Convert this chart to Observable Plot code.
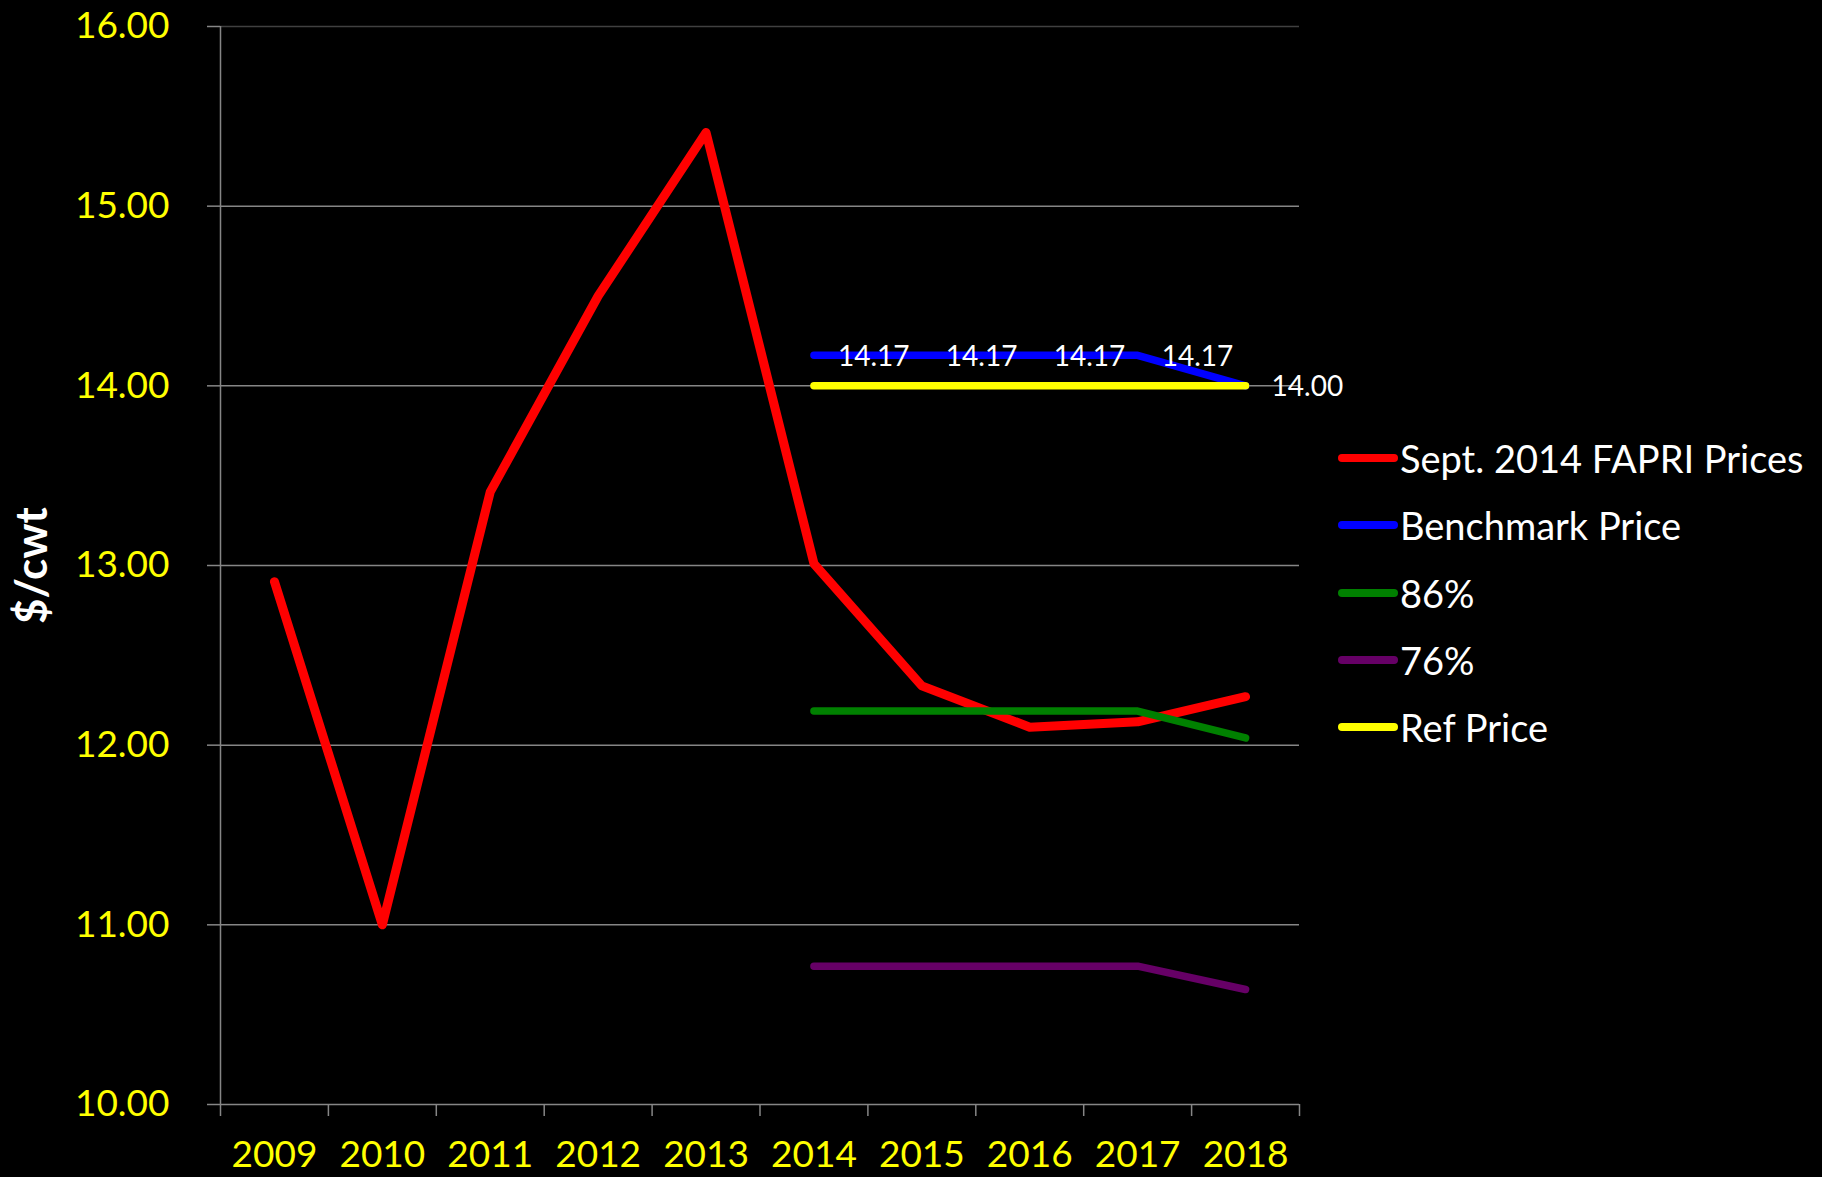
<!DOCTYPE html>
<html>
<head>
<meta charset="utf-8">
<script src="https://cdn.jsdelivr.net/npm/d3@7"></script>
<script src="https://cdn.jsdelivr.net/npm/@observablehq/plot@0.6"></script>
<style>
  html, body { margin: 0; padding: 0; background: #000; }
  #wrap { position: relative; width: 1822px; height: 1177px; background: #000; overflow: hidden; }
  #legend { position: absolute; left: 1338px; top: 0; font-family: Lato, "Open Sans", sans-serif; color: #fff; font-size: 38px; }
  .row { position: absolute; left: 0; display: flex; align-items: center; white-space: nowrap; transform: translateY(-50%); }
  .sw { width: 60px; height: 8px; border-radius: 4px; margin-right: 2px; }
</style>
</head>
<body>
<div id="wrap"><div id="legend"></div></div>
<script>
const years = [2009, 2010, 2011, 2012, 2013, 2014, 2015, 2016, 2017, 2018];
const fapriPrices = [12.91, 11.00, 13.41, 14.50, 15.41, 13.01, 12.33, 12.10, 12.13, 12.27];
const programYears = [2014, 2015, 2016, 2017, 2018];
const benchmarkPrice = [14.17, 14.17, 14.17, 14.17, 14.00];
const pct86 = [12.19, 12.19, 12.19, 12.19, 12.04];
const pct76 = [10.77, 10.77, 10.77, 10.77, 10.64];
const refPrice = [14.00, 14.00, 14.00, 14.00, 14.00];
const yTicks = [10, 11, 12, 13, 14, 15, 16];
const seriesNames = ["Sept. 2014 FAPRI Prices", "Benchmark Price", "86%", "76%", "Ref Price"];
const seriesColors = ["#ff0000", "#0000ff", "#008000", "#660066", "#ffff00"];

const fapri = years.map((year, i) => ({year, value: fapriPrices[i]}));
const bench = programYears.map((year, i) => ({year, value: benchmarkPrice[i]}));
const p86 = programYears.map((year, i) => ({year, value: pct86[i]}));
const p76 = programYears.map((year, i) => ({year, value: pct76[i]}));
const ref = programYears.map((year, i) => ({year, value: refPrice[i]}));

const font = "Lato, 'Open Sans', sans-serif";
const grid = "#868686";
const bounds = d3.range(years[0] - 0.5, years[years.length - 1] + 1, 1);

const lineOpts = (color, w) => ({x: "year", y: "value", stroke: color, strokeWidth: w, strokeLinecap: "round", strokeLinejoin: "round"});

const chart = Plot.plot({
  width: 1822,
  height: 1177,
  marginLeft: 220,
  marginRight: 523,
  marginTop: 26,
  marginBottom: 73,
  style: {background: "#000", fontFamily: font, overflow: "visible"},
  x: {type: "linear", domain: [years[0] - 0.5, years[years.length - 1] + 0.5], axis: null},
  y: {domain: [yTicks[0], yTicks[yTicks.length - 1]], axis: null},
  marks: [
    Plot.ruleY([yTicks[yTicks.length - 1]], {stroke: "#404040", strokeWidth: 1.5}),
    Plot.gridY(yTicks.slice(1, -1), {stroke: grid, strokeOpacity: 1, strokeWidth: 1.5}),
    Plot.axisY(yTicks, {tickSize: 13, tickFormat: () => "", stroke: grid, strokeWidth: 1.5, label: null}),
    Plot.axisY(yTicks, {tickSize: 0, tickPadding: 51, tickFormat: d => d.toFixed(2), fill: "#ffff00", fontSize: 37, fontFamily: font, label: null}),
    Plot.axisX(bounds, {tickSize: 12, tickFormat: () => "", stroke: grid, strokeWidth: 1.5, label: null}),
    Plot.axisX(years, {tickSize: 0, tickPadding: 36, tickFormat: d => String(d), fill: "#ffff00", fontSize: 37, fontFamily: font, label: null}),
    Plot.ruleX([bounds[0]], {stroke: grid, strokeWidth: 1.5}),
    Plot.ruleY([yTicks[0]], {stroke: grid, strokeWidth: 1.5}),
    Plot.text(["$/cwt"], {frameAnchor: "left", textAnchor: "middle", rotate: -90, dx: -188, fill: "#fff", fontSize: 44, fontWeight: "bold", fontFamily: font, letterSpacing: "4px"}),
    Plot.line(fapri, lineOpts(seriesColors[0], 9)),
    Plot.line(bench, lineOpts(seriesColors[1], 7.5)),
    Plot.line(p86, lineOpts(seriesColors[2], 7.5)),
    Plot.line(p76, lineOpts(seriesColors[3], 7.5)),
    Plot.line(ref, lineOpts(seriesColors[4], 7.5)),
    Plot.text(bench.slice(0, 4), {x: "year", y: "value", text: d => d.value.toFixed(2), textAnchor: "start", dx: 24, dy: 2, fill: "#fff", fontSize: 28, fontFamily: font}),
    Plot.text(ref.slice(-1), {x: "year", y: "value", text: d => d.value.toFixed(2), textAnchor: "start", dx: 26, dy: 1, fill: "#fff", fontSize: 28, fontFamily: font})
  ]
});
const wrap = document.getElementById("wrap");
wrap.insertBefore(chart, wrap.firstChild);

const legend = document.getElementById("legend");
seriesNames.forEach((name, i) => {
  const row = document.createElement("div");
  row.className = "row";
  row.style.top = (458 + i * 67.3) + "px";
  const sw = document.createElement("div");
  sw.className = "sw";
  sw.style.background = seriesColors[i];
  const t = document.createElement("span");
  t.textContent = name;
  row.appendChild(sw);
  row.appendChild(t);
  legend.appendChild(row);
});
</script>
</body>
</html>
